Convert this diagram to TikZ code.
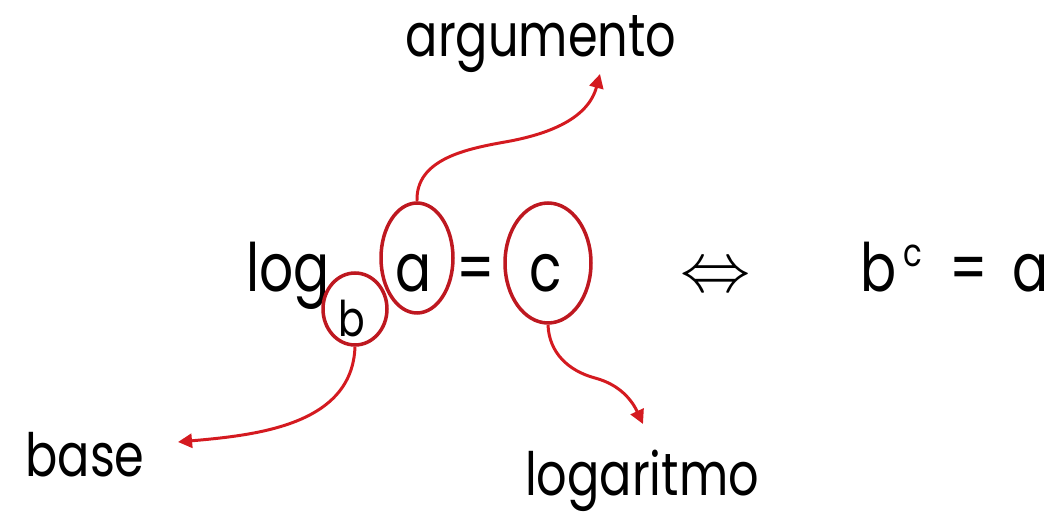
\documentclass[tikz,border=0pt]{standalone}
\usepackage{fontspec}
\setmainfont{Poppins}[FakeStretch=0.8]
\usetikzlibrary{shapes.geometric,arrows.meta}

\definecolor{ringred}{RGB}{190,24,32}
\definecolor{arrowred}{RGB}{212,26,32}

\tikzset{
  ring/.style={draw=ringred,line width=2pt,ellipse,inner sep=0pt},
  pointer/.style={arrowred,line width=1.7pt,-{Triangle[length=8pt,width=8pt]}},
  sym/.style={anchor=base,inner sep=0pt,font=\fontsize{38}{44}\selectfont},
  label/.style={anchor=base,inner sep=0pt,font=\fontsize{34}{40}\selectfont}
}

\begin{document}
\begin{tikzpicture}[x=0.02cm,y=-0.02cm]
  \useasboundingbox (0,0) rectangle (1059,520);
  % left side: log_b a = c
  \node[sym] (log) at (288,292) {log};
  \node[sym,font=\fontsize{28}{32}\selectfont] (base) at (352,337) {b};
  \node[sym] (arg) at (414,292) {a};
  \node[sym] (eq) at (476,292) {=};
  \node[sym] (res) at (546,292) {c};
  % rings
  \node[ring,minimum width=1.44cm,minimum height=2.2cm] (ringA) at (417,258) {};
  \node[ring,minimum width=1.72cm,minimum height=2.4cm] (ringC) at (548,263) {};
  \node[ring,minimum width=1.28cm,minimum height=1.44cm] (ringB) at (355,309) {};
  % equivalence
  \node[sym,font=\normalsize] (iff) at (716,292) {\scalebox{4}{$\Leftrightarrow$}};
  % right side: b^c = a
  \node[sym] (powb) at (879,292) {b};
  \node[sym,font=\fontsize{22}{26}\selectfont] (powc) at (913,267) {c};
  \node[sym] (poweq) at (969,292) {=};
  \node[sym] (powa) at (1031,292) {a};
  % labels
  \node[label] (argumento) at (541,57) {argumento};
  \node[label] (basis) at (85,477) {base};
  \node[label] (logaritmo) at (642,496) {logaritmo};
  \coordinate (argtip) at (600,74);
  \coordinate (basetip) at (178,442);
  \coordinate (logtip) at (643,424);
  % pointers
  \draw[pointer] (ringA.north) to[out=92,in=190] (505,142) to[out=10,in=-105] (argtip);
  \draw[pointer] (ringC.south) to[out=-88,in=165] (595,378) to[out=-15,in=115] (logtip);
  \draw[pointer] (ringB.south) to[out=-92,in=5] (basetip);
\end{tikzpicture}
\end{document}
